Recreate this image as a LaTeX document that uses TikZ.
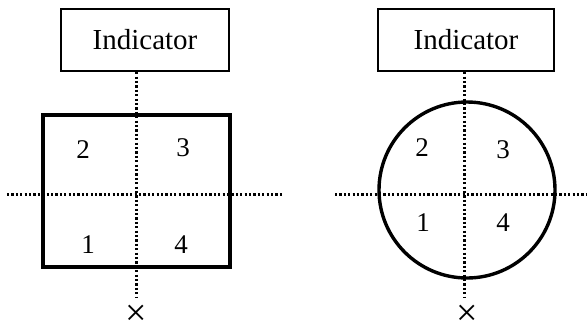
\documentclass[tikz,border=0pt]{standalone}
\usepackage{fontspec}
\setmainfont{Liberation Serif}
\usetikzlibrary{positioning}

\begin{document}
\begin{tikzpicture}[x=1pt, y=-1pt,
  lbl/.style={draw, line width=2.2pt, minimum height=62pt, inner sep=0pt, font=\fontsize{29}{30}\selectfont},
  body/.style={draw, line width=3.4pt, inner sep=0pt},
  axis/.style={line width=3pt, dash pattern=on 2.2pt off 2.2pt},
  num/.style={font=\fontsize{27}{28}\selectfont},
  xmk/.style={font=\fontsize{38}{38}\selectfont, inner sep=0pt}]
\useasboundingbox (0,0) rectangle (588,333);

% left: square body
\node[lbl, minimum width=168pt] (indA) at (145,40) {Indicator};
\coordinate (vA) at (136,297);
\coordinate (hAl) at (7,194);
\coordinate (hAr) at (282,194);
\draw[axis] (indA.south -| vA) -- (vA);
\draw[axis] (hAl) -- (hAr);
\node[body, minimum width=187pt, minimum height=152pt] (sq) at (136.5,191) {};
\node[num] (sq2) at (83,150) {2};
\node[num] (sq3) at (183,148) {3};
\node[num] (sq1) at (88,245) {1};
\node[num] (sq4) at (181,245) {4};
\node[xmk] (xA) at (136,315) {×};

% right: round body
\node[lbl, minimum width=176pt] (indB) at (466,40) {Indicator};
\coordinate (vB) at (464,297);
\coordinate (hBl) at (335,194);
\coordinate (hBr) at (586,194);
\draw[axis] (indB.south -| vB) -- (vB);
\draw[axis] (hBl) -- (hBr);
\node[body, circle, minimum size=176pt] (cir) at (467,190) {};
\node[num] (cir2) at (422,148) {2};
\node[num] (cir3) at (503,150) {3};
\node[num] (cir1) at (423,223) {1};
\node[num] (cir4) at (503,223) {4};
\node[xmk] (xB) at (467,315) {×};
\end{tikzpicture}
\end{document}
